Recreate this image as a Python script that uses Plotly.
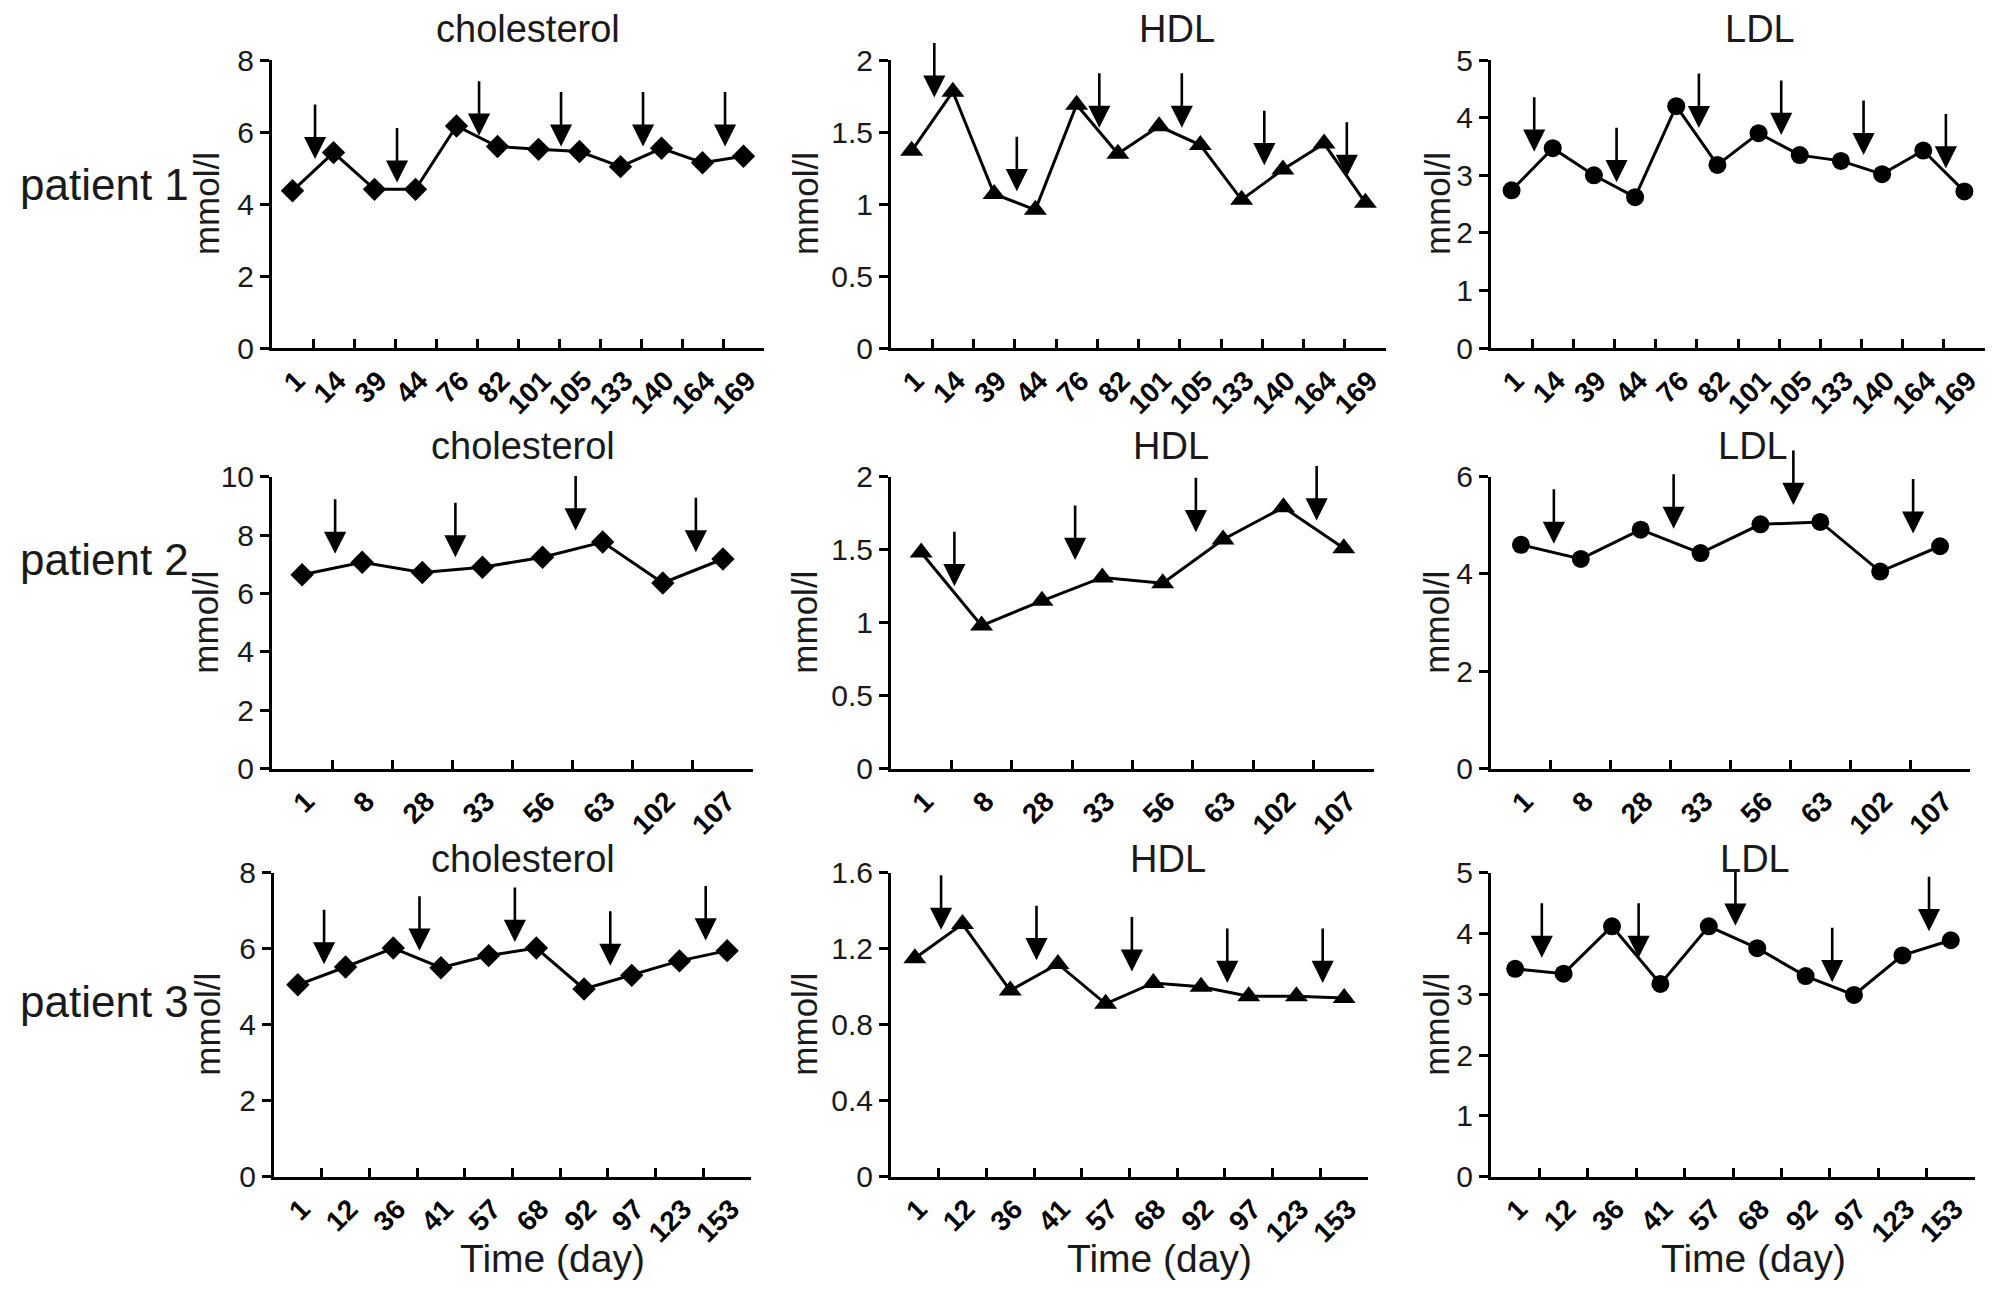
import plotly.graph_objects as go
from plotly.subplots import make_subplots

# page body keeps its default 8px margin, so the figure is drawn 16px smaller
# and every canvas position below is shifted by that margin
W, H = 2008, 1294
PAGE_MARGIN = 8
FIG_W, FIG_H = W - 2 * PAGE_MARGIN, H - 2 * PAGE_MARGIN
INK = "#000000"
TEXT = "#1a1a1a"
FONT = "Liberation Sans, Arial, sans-serif"

# ---- data (mmol/l) ----
MEASURES = ["cholesterol", "HDL", "LDL"]
ROW_LABELS = ["patient 1", "patient 2", "patient 3"]

P1_DAYS = ["1", "14", "39", "44", "76", "82", "101", "105", "133", "140", "164", "169"]
P1_CHOL = [4.37, 5.43, 4.41, 4.41, 6.17, 5.60, 5.52, 5.46, 5.04, 5.55, 5.15, 5.33]
P1_HDL = [1.37, 1.78, 1.07, 0.96, 1.69, 1.35, 1.54, 1.41, 1.03, 1.24, 1.42, 1.01]
P1_LDL = [2.74, 3.47, 3.00, 2.62, 4.20, 3.18, 3.73, 3.35, 3.25, 3.02, 3.43, 2.72]
# arrows sit after these visits; tip levels per measure
P1_ARROW_AFTER = [0, 2, 4, 6, 8, 10]
P1_ARROW_CHOL = [5.25, 4.60, 5.90, 5.60, 5.60, 5.60]
P1_ARROW_HDL = [1.74, 1.09, 1.53, 1.53, 1.27, 1.19]
P1_ARROW_LDL = [3.41, 2.88, 3.82, 3.70, 3.35, 3.12]

P2_DAYS = ["1", "8", "28", "33", "56", "63", "102", "107"]
P2_CHOL = [6.64, 7.07, 6.72, 6.90, 7.24, 7.76, 6.36, 7.18]
P2_HDL = [1.48, 0.98, 1.15, 1.31, 1.27, 1.57, 1.79, 1.51]
P2_LDL = [4.60, 4.31, 4.91, 4.43, 5.02, 5.07, 4.05, 4.57]
P2_ARROW_AFTER = [0, 2, 4, 6]
P2_ARROW_CHOL = [7.36, 7.24, 8.16, 7.41]
P2_ARROW_HDL = [1.25, 1.43, 1.62, 1.70]
P2_ARROW_LDL = [4.62, 4.93, 5.42, 4.83]

P3_DAYS = ["1", "12", "36", "41", "57", "68", "92", "97", "123", "153"]
P3_CHOL = [5.05, 5.52, 6.02, 5.50, 5.82, 6.02, 4.94, 5.30, 5.68, 5.95]
P3_HDL = [1.15, 1.33, 0.98, 1.12, 0.91, 1.02, 1.00, 0.95, 0.95, 0.94]
P3_LDL = [3.42, 3.34, 4.12, 3.17, 4.12, 3.76, 3.30, 2.99, 3.64, 3.89]
P3_ARROW_AFTER = [0, 2, 4, 6, 8]
P3_ARROW_CHOL = [5.59, 5.95, 6.18, 5.55, 6.22]
P3_ARROW_HDL = [1.30, 1.14, 1.08, 1.02, 1.02]
P3_ARROW_LDL = [3.60, 3.60, 4.13, 3.20, 4.04]

Y_TOPS = [[8, 2, 5], [10, 2, 6], [8, 1.6, 5]]
Y_STEPS = [[2, 0.5, 1], [2, 0.5, 2], [2, 0.4, 1]]

ROWS = [
    (P1_DAYS, P1_ARROW_AFTER, [(P1_CHOL, P1_ARROW_CHOL), (P1_HDL, P1_ARROW_HDL), (P1_LDL, P1_ARROW_LDL)]),
    (P2_DAYS, P2_ARROW_AFTER, [(P2_CHOL, P2_ARROW_CHOL), (P2_HDL, P2_ARROW_HDL), (P2_LDL, P2_ARROW_LDL)]),
    (P3_DAYS, P3_ARROW_AFTER, [(P3_CHOL, P3_ARROW_CHOL), (P3_HDL, P3_ARROW_HDL), (P3_LDL, P3_ARROW_LDL)]),
]

# ---- layout (pixels in the 2008x1294 canvas) ----
SYMBOLS = ["diamond", "triangle-up", "circle"]
MARKER_PX = [18, 20, 18]
PANEL_X = [
    [(272, 764), (891, 1386), (1491, 1985)],
    [(272, 753), (891, 1374), (1491, 1970)],
    [(274, 751), (891, 1368), (1491, 1975)],
]
PANEL_Y = [(44, 340), (472, 772), (879, 1191)]
TITLE_Y = [12, 441, 865]
TITLE_SHIFT = [10, 38, 22]
ROW_LABEL_Y = [172, 557, 1011]
YTITLE_OFFSET = [66, 86, 54]
TIME_SHIFT = [40, 30, 20]
TIME_Y = 1275


def px_x(v):
    return (v - PAGE_MARGIN) / FIG_W


def px_y(v):
    return 1 - (v - PAGE_MARGIN) / FIG_H


fig = make_subplots(rows=3, cols=3)

for r, (days, arrow_after, series) in enumerate(ROWS):
    for c, (values, tips) in enumerate(series):
        n = r * 3 + c + 1
        xname = "x" if n == 1 else f"x{n}"
        yname = "y" if n == 1 else f"y{n}"
        fig.add_trace(
            go.Scatter(
                x=days,
                y=values,
                mode="lines+markers",
                line={"color": INK, "width": 3},
                marker={"symbol": SYMBOLS[c], "size": MARKER_PX[c], "color": INK},
                cliponaxis=False,
                showlegend=False,
            ),
            row=r + 1,
            col=c + 1,
        )
        for idx, tip in zip(arrow_after, tips):
            fig.add_annotation(
                x=idx + 0.55,
                y=tip,
                xref=xname,
                yref=yname,
                ax=0,
                ay=-56,
                text="",
                showarrow=True,
                arrowhead=2,
                arrowsize=1.7,
                arrowwidth=2.6,
                arrowcolor=INK,
            )

        x0, x1 = PANEL_X[r][c]
        y0, y1 = PANEL_Y[r]
        fig.update_xaxes(
            row=r + 1,
            col=c + 1,
            domain=[px_x(x0), px_x(x1)],
            type="category",
            range=[-0.5, len(days) - 0.5],
            tickson="boundaries",
            ticks="inside",
            ticklen=9,
            tickwidth=3,
            tickcolor=INK,
            showline=True,
            linewidth=3,
            linecolor=INK,
            tickangle=-45,
            tickfont={"family": FONT, "size": 28, "color": INK, "weight": "bold"},
            ticklabelshift=4,
            ticklabelstandoff=2,
            showgrid=False,
            zeroline=False,
        )
        fig.update_yaxes(
            row=r + 1,
            col=c + 1,
            domain=[px_y(y1), px_y(y0)],
            range=[0, Y_TOPS[r][c]],
            dtick=Y_STEPS[r][c],
            tick0=0,
            ticks="outside",
            ticklen=9,
            tickwidth=3,
            tickcolor=INK,
            showline=True,
            linewidth=3,
            linecolor=INK,
            tickfont={"family": FONT, "size": 30, "color": TEXT},
            showgrid=False,
            zeroline=False,
        )

        # panel title, y-axis title
        fig.add_annotation(
            text=MEASURES[c],
            xref="paper",
            yref="paper",
            x=px_x((x0 + x1) / 2 + TITLE_SHIFT[c]),
            y=px_y(TITLE_Y[r]),
            xanchor="center",
            yanchor="middle",
            showarrow=False,
            font={"family": FONT, "size": 38, "color": TEXT},
        )
        fig.add_annotation(
            text="mmol/l",
            xref="paper",
            yref="paper",
            x=px_x(x0 - YTITLE_OFFSET[c]),
            y=px_y((y0 + y1) / 2),
            xanchor="center",
            yanchor="middle",
            textangle=-90,
            showarrow=False,
            font={"family": FONT, "size": 35, "color": TEXT},
        )
        if r == 2:
            fig.add_annotation(
                text="Time (day)",
                xref="paper",
                yref="paper",
                x=px_x((x0 + x1) / 2 + TIME_SHIFT[c]),
                y=px_y(TIME_Y),
                xanchor="center",
                yanchor="middle",
                showarrow=False,
                font={"family": FONT, "size": 39, "color": TEXT},
            )

    fig.add_annotation(
        text=ROW_LABELS[r],
        xref="paper",
        yref="paper",
        x=px_x(104),
        y=px_y(ROW_LABEL_Y[r]),
        xanchor="center",
        yanchor="middle",
        showarrow=False,
        font={"family": FONT, "size": 44, "color": TEXT},
    )

fig.update_layout(
    width=FIG_W,
    height=FIG_H,
    margin={"l": 0, "r": 0, "t": 0, "b": 0},
    paper_bgcolor="white",
    plot_bgcolor="white",
    showlegend=False,
    font={"family": FONT, "color": INK},
)

fig.write_html("out.html")
